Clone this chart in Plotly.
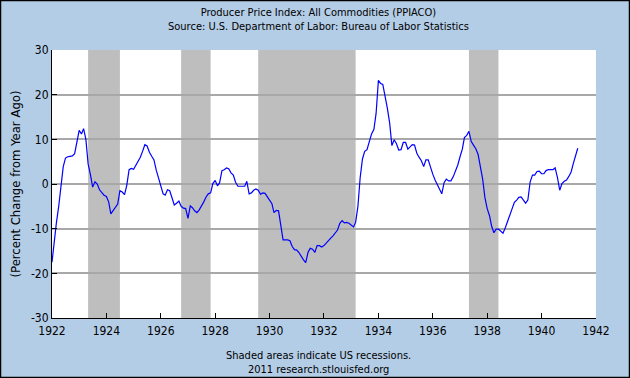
import pandas as pd
import plotly.graph_objects as go

# Monthly PPI % change from year ago, Jan 1922 .. May 1941
ppi_change = [
    -17.5, -12, -8.7, -5, -0.5, 3.9, 5.8, 6.1, 6.2, 6.3, 6.8, 9.5,          # 1922
    12, 11.2, 12.4, 10, 4.5, 2.1, -0.7, 0.5, 0, -1.3, -2, -2.5,             # 1923
    -2.8, -4, -6.7, -5.9, -5.3, -4.5, -1.5, -1.8, -2.4, -0.3, 3.2, 3.5,     # 1924
    3.3, 4.2, 5.2, 6, 7.3, 8.8, 8.5, 7.1, 6.2, 5.4, 3.1, 1.3,               # 1925
    -0.6, -2.2, -2.5, -1.3, -1.5, -3, -4.7, -4.3, -3.8, -5, -5.4, -5.5,     # 1926
    -7.7, -4.9, -5.3, -6, -6.4, -5.8, -5, -4, -2.9, -2.2, -2, 0.1,          # 1927
    0.8, -0.4, 0.3, 3, 3.2, 3.6, 3.4, 2.5, 2, 0.4, -0.5, -0.5,              # 1928
    -0.5, -0.5, 0.6, -2.2, -2, -1.4, -1.1, -1.4, -2.3, -2, -2.1, -2.8,      # 1929
    -3.5, -4.4, -6.4, -5.9, -6, -9.5, -12.5, -12.5, -12.5, -12.7, -14, -14.7,  # 1930
    -14.8, -15.4, -16.2, -17, -17.6, -15.3, -14.4, -14.6, -15.3, -13.8, -13.8, -14.1,  # 1931
    -13.8, -13.2, -12.5, -12.1, -11.6, -10.9, -10.3, -8.8, -8.2, -8.7, -8.6, -8.8,  # 1932
    -9.3, -9.6, -8.6, -5, 1.4, 5.6, 7.3, 7.7, 9.5, 11.2, 12.2, 15.8,        # 1933
    23.2, 22.5, 22.3, 19.8, 17, 13.7, 8.6, 9.9, 9, 7.6, 7.7, 9.3,           # 1934
    9.3, 7.8, 8.3, 8.8, 8.7, 6.9, 6, 5.2, 3.9, 5.4, 5.4, 3.7,               # 1935
    2.2, 0.9, -0.1, -0.8, -2.2, 0.3, 1.1, 0.7, 0.7, 1.6, 2.8, 4.2,          # 1936
    6.1, 7.8, 10.4, 10.9, 11.8, 9.5, 8.7, 7.9, 6.6, 4.2, 1.1, -3,           # 1937
    -5.5, -7.1, -9.4, -10.9, -10.1, -10.1, -10.6, -11, -9.8, -8.4, -6.6, -5.2,  # 1938
    -4.1, -3.6, -3, -2.9, -3.6, -4.3, -3.6, 0.5, 2, 2, 2.8, 2.9,            # 1939
    2.3, 2.3, 3, 3.2, 3.2, 3.2, 3.6, 1.5, -1.4, 0.1, 0.6, 0.9,              # 1940
    1.7, 2.7, 4.5, 6.5, 8,                                                  # 1941
]
start_month = "1922-01-01"
dates = pd.date_range(start_month, periods=len(ppi_change), freq="MS")

recession_starts = ["1923-05-01", "1926-10-01", "1929-08-01", "1937-05-01"]
recession_ends = ["1924-07-01", "1927-11-01", "1933-03-01", "1938-06-01"]

y_tickvals = [30, 20, 10, 0, -10, -20, -30]
y_ticktext = ["30", "20", "10", "0", "-10", "-20", "-30"]
x_tick_years = list(range(1922, 1943, 2))

FONT = "DejaVu Sans Condensed, DejaVu Sans, Liberation Sans, sans-serif"
BG = "#B4CDE6"

fig = go.Figure()
fig.add_trace(go.Scatter(x=dates, y=ppi_change, mode="lines",
                         line=dict(color="#0000FF", width=1.2),
                         hoverinfo="x+y", showlegend=False))

for s, e in zip(recession_starts, recession_ends):
    fig.add_shape(type="rect", xref="x", yref="paper", x0=s, x1=e, y0=0, y1=1,
                  fillcolor="#BEBEBE", line_width=0, layer="between")

W, H = 630, 378
L, R, T, B = 52, 34, 50, 60
pw, ph = W - L - R, H - T - B
fig.add_shape(type="rect", xref="paper", yref="paper",
              x0=-L / pw + 0.5 / pw, x1=1 + R / pw - 0.5 / pw,
              y0=-B / ph + 0.5 / ph, y1=1 + T / ph - 0.5 / ph,
              line=dict(color="#000000", width=1.5), layer="above")

fig.update_layout(
    width=W, height=H,
    margin=dict(l=L, r=R, t=T, b=B, autoexpand=False),
    paper_bgcolor=BG, plot_bgcolor="#FFFFFF",
    font=dict(family=FONT, size=11, color="#000000"),
    annotations=[
        dict(text="Producer Price Index: All Commodities (PPIACO)<br>Source: U.S. Department of Labor: Bureau of Labor Statistics",
             xref="paper", yref="paper", x=0.49, y=1 + 46 / ph, xanchor="center", yanchor="top",
             showarrow=False, font=dict(size=11, family=FONT)),
        dict(text="Shaded areas indicate US recessions.<br>2011 research.stlouisfed.org",
             xref="paper", yref="paper", x=0.49, y=-29 / ph, xanchor="center", yanchor="top",
             showarrow=False, font=dict(size=11, family=FONT)),
    ],
)
fig.update_xaxes(
    type="date", range=["1922-01-01", "1942-01-01"],
    tickvals=[f"{y}-01-01" for y in x_tick_years],
    ticktext=[str(y) for y in x_tick_years],
    ticks="inside", ticklen=5, tickcolor="#000000", tickwidth=1,
    showgrid=False, zeroline=False,
    showline=True, linecolor="#000000", linewidth=1,
    tickfont=dict(size=12, family=FONT), ticklabelstandoff=2,
    automargin=False, fixedrange=True,
)
fig.update_yaxes(
    range=[-30, 30], tickvals=y_tickvals, ticktext=y_ticktext,
    ticks="inside", ticklen=5, tickcolor="#000000", tickwidth=1,
    showgrid=True, gridcolor="#A8A8A8", gridwidth=1.5,
    zeroline=False, showline=True, linecolor="#000000", linewidth=1,
    tickfont=dict(size=12, family=FONT),
    title=dict(text="(Percent Change from Year Ago)", font=dict(size=13, family=FONT), standoff=7),
    automargin=False, fixedrange=True,
)

fig.write_html("out.html", config={"displayModeBar": False},
               post_script="document.body.style.margin='0';document.body.style.padding='0';")
